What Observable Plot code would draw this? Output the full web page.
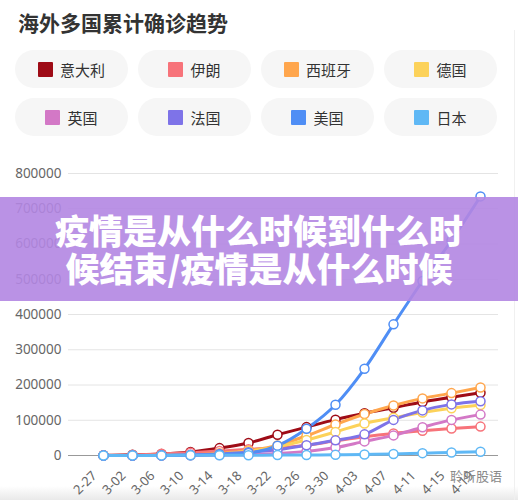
<!DOCTYPE html>
<html><head><meta charset="utf-8">
<script src="https://cdn.jsdelivr.net/npm/d3@7"></script>
<script src="https://cdn.jsdelivr.net/npm/@observablehq/plot@0.6"></script>
<style>
html,body{margin:0;padding:0;background:#fff;width:518px;height:500px;overflow:hidden;font-family:"Noto Sans CJK SC","Noto Sans",sans-serif;}
#wrap{position:relative;width:518px;height:500px;}
#title{position:absolute;left:18px;top:8px;font-size:21px;font-weight:700;color:#333;line-height:28px;white-space:nowrap;}
#legend{position:absolute;left:15px;top:50px;display:grid;grid-template-columns:repeat(4,113px);column-gap:10px;row-gap:10px;}
.chip{height:38px;border-radius:19px;background:#f6f6f6;display:flex;align-items:center;justify-content:center;font-size:15px;color:#333;}
.sw{width:15px;height:15px;margin-right:7px;border-radius:1px;}
#shade{position:absolute;left:0;top:486px;width:518px;height:14px;background:linear-gradient(#fff,#e9e9e9);}
#edge{position:absolute;left:514px;top:30px;width:1px;height:470px;background:#f0f0f0;}
#chart{position:absolute;left:0;top:150px;}
#banner{position:absolute;left:0;top:197px;width:518px;height:104px;background:rgba(178,134,226,0.9);color:#fff;font-weight:900;font-size:34px;line-height:38px;text-align:center;display:flex;flex-direction:column;justify-content:center;}
#wm{position:absolute;left:450px;top:466px;font-size:13px;color:#8a8a8a;white-space:nowrap;}
</style></head>
<body>
<div id="wrap">
  <div id="title">海外多国累计确诊趋势</div>
  <div id="legend"></div>
  <div id="shade"></div>
  <div id="edge"></div>
  <div id="chart"></div>
  <div id="banner"><div>疫情是从什么时候到什么时</div><div>候结束/疫情是从什么时候</div></div>
  <div id="wm">聆听股语</div>
</div>
<script>
const dates = ["2-27","3-02","3-06","3-10","3-14","3-18","3-22","3-26","3-30","4-03","4-07","4-11","4-15","4-19"];
const countries = ["意大利","伊朗","西班牙","德国","英国","法国","美国","日本"];
const colors = ["#9e0b16","#f7737a","#ffa64d","#fcd25a","#d378c6","#7e73e8","#4f8ef5","#5fb8f5"];
const yTicks = [0,100000,200000,300000,400000,500000,600000,700000,800000];

const italy   = [650, 2000, 4600, 10100, 21000, 35700, 59000, 80500, 101700, 119800, 135500, 152000, 165000, 178000];
const iran    = [250, 1500, 4700, 8000, 12700, 17400, 21600, 29400, 41500, 53200, 62600, 70000, 76400, 82000];
const spain   = [25, 120, 400, 1700, 6400, 13900, 28600, 56000, 88000, 117700, 142000, 162000, 177000, 193000];
const germany = [50, 160, 670, 1450, 4600, 12300, 24900, 44000, 67000, 91000, 107000, 122000, 134000, 143000];
const uk      = [15, 40, 160, 370, 1100, 2600, 5700, 11700, 22500, 40000, 57000, 80000, 101000, 116000];
const france  = [60, 190, 650, 1800, 4500, 9100, 16000, 29000, 43000, 60000, 101000, 128000, 145000, 154000];
const usa     = [60, 100, 320, 960, 2700, 7000, 28000, 76000, 144000, 246000, 372000, 495000, 610000, 735000];
const japan   = [210, 250, 350, 570, 770, 890, 1090, 1390, 1870, 2900, 4300, 6700, 8600, 10800];

const series = [italy, iran, spain, germany, uk, france, usa, japan];
const rows = countries.flatMap((c, i) => dates.map((d, j) => ({country: c, date: d, value: series[i][j]})));

// legend
const legend = document.getElementById("legend");
countries.forEach((c, i) => {
  const chip = document.createElement("div");
  chip.className = "chip";
  const sw = document.createElement("span");
  sw.className = "sw";
  sw.style.background = colors[i];
  const t = document.createElement("span");
  t.textContent = c;
  chip.appendChild(sw); chip.appendChild(t);
  legend.appendChild(chip);
});

const chart = Plot.plot({
  width: 518,
  height: 370,
  marginTop: 23,
  marginLeft: 68,
  marginRight: 20,
  marginBottom: 65,
  x: {type: "point", domain: dates, range: [88, 495], label: null},
  y: {domain: [0, 800000], label: null},
  color: {domain: countries, range: colors},
  style: {fontFamily: "'Noto Sans', 'Noto Sans CJK SC', sans-serif", fontSize: "13.5px", color: "#666", background: "transparent"},
  marks: [
    Plot.ruleY(yTicks.slice(1), {stroke: "#e4e4e4", strokeWidth: 1}),
    Plot.ruleY([0], {stroke: "#999", strokeWidth: 1}),
    Plot.axisY({ticks: yTicks, tickSize: 0, tickPadding: 7, tickFormat: d => String(d), fill: "#666", label: null}),
    Plot.axisX({tickRotate: -45, tickSize: 0, tickPadding: 18, dx: -9, fontSize: 13, fill: "#666", label: null}),
    Plot.line(rows, {x: "date", y: "value", z: "country", stroke: "country", strokeWidth: 3, curve: "monotone-x"}),
    Plot.dot(rows, {x: "date", y: "value", stroke: "country", fill: "#fff", r: 4.5, strokeWidth: 1.5})
  ]
});
document.getElementById("chart").appendChild(chart);
</script>
</body></html>
